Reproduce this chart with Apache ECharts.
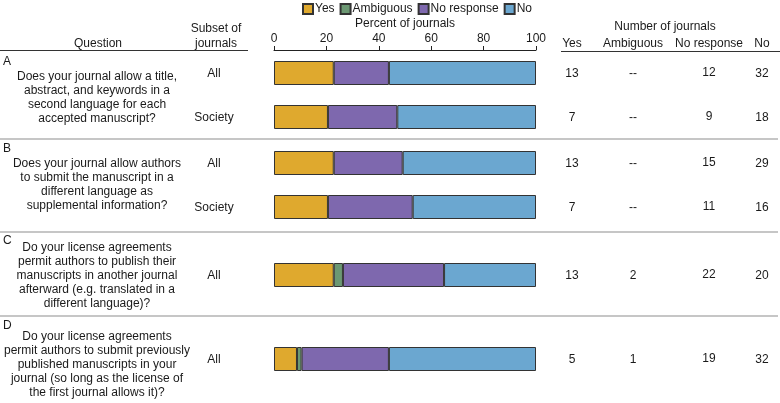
<!DOCTYPE html>
<html>
<head>
<meta charset="utf-8">
<script src="https://cdn.jsdelivr.net/npm/echarts@6/dist/echarts.min.js"></script>
<style>html,body{margin:0;padding:0;background:#fff;}#c{width:780px;height:403px;}</style>
</head>
<body>
<div id="c"></div>
<script>
// ---- data ----
var sectionLetters = ['A', 'B', 'C', 'D'];
var questions = [
  'Does your journal allow a title,\nabstract, and keywords in a\nsecond language for each\naccepted manuscript?',
  'Does your journal allow authors\nto submit the manuscript in a\ndifferent language as\nsupplemental information?',
  'Do your license agreements\npermit authors to publish their\nmanuscripts in another journal\nafterward (e.g. translated in a\ndifferent language)?',
  'Do your license agreements\npermit authors to submit previously\npublished manuscripts in your\njournal (so long as the license of\nthe first journal allows it)?'
];
var rowSection = [0, 0, 1, 1, 2, 3];
var subsets = ['All', 'Society', 'All', 'Society', 'All', 'All'];
var seriesNames = ['Yes', 'Ambiguous', 'No response', 'No'];
var yesCounts = [13, 7, 13, 7, 13, 5];
var ambiguousCounts = [null, null, null, null, 2, 1];
var noResponseCounts = [12, 9, 15, 11, 22, 19];
var noCounts = [32, 18, 29, 16, 20, 32];
var percentTicks = [0, 20, 40, 60, 80, 100];

// ---- layout / style ----
var colors = ['#DFA92E', '#6C9873', '#7E68AE', '#6BA7D0'];
var FAMILY = '"Liberation Sans", Arial, sans-serif';
var FONT = '12px ' + FAMILY;
var TXT = '#1a1a1a';
var barLeft = 274, barWidthPx = 262, barH = 24;
var rowCenters = [73, 117, 163, 207, 275, 359];
var sectionLetterY = [62, 149, 241, 326];
var questionCenterY = [98, 184.5, 275.5, 364.5];
var separatorsY = [139, 232, 316];
var colX = {yes: 572, amb: 633, nr: 709, no: 762};

var countsBySeries = [yesCounts, ambiguousCounts, noResponseCounts, noCounts];

var grids = [], xAxes = [], yAxes = [], series = [];
rowCenters.forEach(function (cy, i) {
  grids.push({left: barLeft, width: barWidthPx, top: cy - barH / 2, height: barH});
  var first = i === 0;
  xAxes.push({
    type: 'value', gridIndex: i, min: percentTicks[0], max: percentTicks[percentTicks.length - 1], interval: 20,
    position: 'top', offset: first ? 11 : 0,
    show: first,
    axisLine: {show: true, lineStyle: {color: '#222', width: 1}},
    axisTick: {show: true, length: 4, lineStyle: {color: '#222'}},
    axisLabel: {show: true, margin: 5, color: TXT, fontSize: 12, fontFamily: FAMILY},
    splitLine: {show: false}
  });
  yAxes.push({type: 'category', gridIndex: i, data: [subsets[i]], show: false});
  var total = 0;
  countsBySeries.forEach(function (arr) { total += (arr[i] || 0); });
  countsBySeries.forEach(function (arr, s) {
    var v = arr[i];
    series.push({
      type: 'bar', name: seriesNames[s], xAxisIndex: i, yAxisIndex: i,
      stack: 'row' + i, barWidth: '100%', silent: true,
      itemStyle: {color: colors[s], borderColor: '#333', borderWidth: 1},
      data: [v == null ? null : v / total * 100]
    });
  });
});

// ---- table texts ----
var g = [];
function txt(text, x, y, align, extra) {
  var st = {text: text, x: x, y: y, align: align || 'center', verticalAlign: 'middle', font: FONT, fill: TXT};
  if (extra) for (var k in extra) st[k] = extra[k];
  g.push({type: 'text', silent: true, style: st});
}
function line(x1, y1, x2, y2, color, w) {
  g.push({type: 'line', silent: true, shape: {x1: x1, y1: y1, x2: x2, y2: y2}, style: {stroke: color, lineWidth: w}});
}
// headers
txt('Question', 98, 44);
txt('Subset of', 216, 29);
txt('journals', 216, 44);
txt('Percent of journals', barLeft + barWidthPx / 2, 24);
txt('Number of journals', 665, 27);
txt('Yes', colX.yes, 44);
txt('Ambiguous', colX.amb, 44);
txt('No response', colX.nr, 44);
txt('No', colX.no, 44);
line(0, 50.5, 248, 50.5, '#333', 1);
line(561, 51.5, 780, 51.5, '#333', 1);
separatorsY.forEach(function (y) { line(0, y, 778, y, '#c6c6c6', 2); });
// sections
sectionLetters.forEach(function (L, k) {
  txt(L, 3, sectionLetterY[k], 'left');
  txt(questions[k], 97, questionCenterY[k], 'center', {lineHeight: 14});
});
// rows
rowCenters.forEach(function (cy, i) {
  txt(subsets[i], 214, cy + 1);
  txt(String(yesCounts[i]), colX.yes, cy + 1);
  txt(ambiguousCounts[i] == null ? '--' : String(ambiguousCounts[i]), colX.amb, cy + 1);
  txt(String(noResponseCounts[i]), colX.nr, cy);
  txt(String(noCounts[i]), colX.no, cy + 1);
});

var chart = echarts.init(document.getElementById('c'), null, {renderer: 'canvas'});
chart.setOption({
  animation: false,
  backgroundColor: '#fff',
  textStyle: {fontFamily: FAMILY},
  legend: {
    data: seriesNames, left: 302, top: 3, padding: 0, icon: 'rect',
    itemWidth: 10, itemHeight: 10, itemGap: 5, selectedMode: false,
    textStyle: {color: TXT, fontSize: 12, padding: [0, 0, 0, -3], fontFamily: FAMILY}
  },
  grid: grids,
  xAxis: xAxes,
  yAxis: yAxes,
  series: series,
  graphic: g
});
</script>
</body>
</html>
